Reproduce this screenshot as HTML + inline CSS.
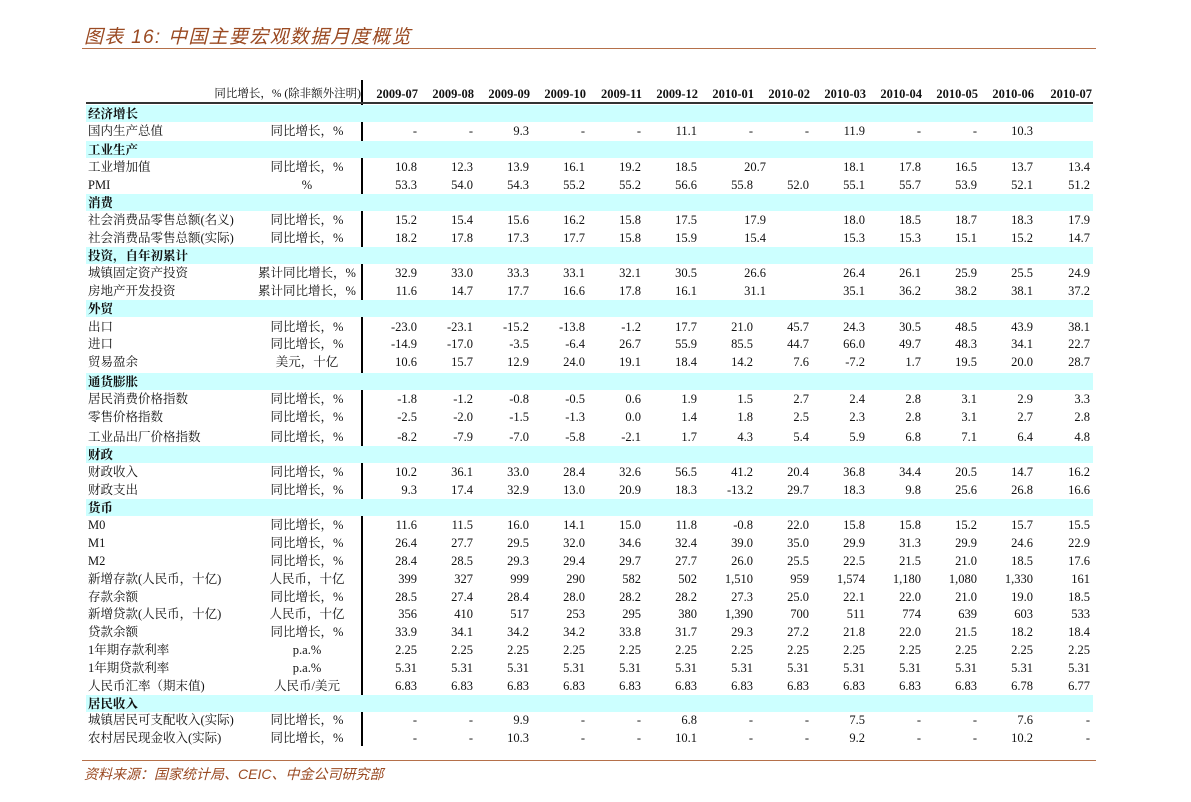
<!DOCTYPE html>
<html><head><meta charset="utf-8"><style>
body{margin:0;width:1191px;height:802px;background:#fff;position:relative;overflow:hidden;font-family:"Liberation Serif","Noto Serif CJK SC",serif;font-size:12.5px;color:#111}
.t{position:absolute;left:84px;top:22px;font-family:"Liberation Sans","Noto Sans CJK SC",sans-serif;font-style:italic;font-size:19px;color:#9a4a22;letter-spacing:1.3px}
.hl{position:absolute;left:82px;width:1014px;height:1px;background:#b5704a}
.r{position:absolute;left:86px;width:1007px;height:18px;line-height:18px;white-space:nowrap}
.b{background:#ccffff;height:17px;font-weight:bold;padding-left:2px;width:1005px}
.n{position:absolute;left:2px}
.u{position:absolute;left:146px;width:150px;text-align:center}
.c{position:absolute;width:56px;text-align:right}
.h{font-weight:bold}
</style></head><body>
<div class="t">图表 16: 中国主要宏观数据月度概览</div>
<div class="hl" style="top:48px"></div>
<div class="hl" style="top:760px"></div>
<div style="position:absolute;left:84px;top:764px;font-family:'Liberation Sans','Noto Sans CJK SC',sans-serif;font-style:italic;font-size:14px;color:#9a4a22">资料来源：国家统计局、CEIC、中金公司研究部</div>
<div style="position:absolute;left:361px;top:80px;width:2px;height:666px;background:#000"></div>
<div style="position:absolute;left:86px;top:102px;width:1007px;height:2px;background:#333"></div>

<div class="r" style="top:85px"><span style="position:absolute;right:732px;font-size:11.5px">同比增长，% (除非额外注明)</span>
<span class="c h" style="left:276px">2009-07</span><span class="c h" style="left:332px">2009-08</span><span class="c h" style="left:388px">2009-09</span><span class="c h" style="left:444px">2009-10</span><span class="c h" style="left:500px">2009-11</span><span class="c h" style="left:556px">2009-12</span><span class="c h" style="left:612px">2010-01</span><span class="c h" style="left:668px">2010-02</span><span class="c h" style="left:724px">2010-03</span><span class="c h" style="left:780px">2010-04</span><span class="c h" style="left:836px">2010-05</span><span class="c h" style="left:892px">2010-06</span><span class="c h" style="left:950px">2010-07</span></div>

<div class="r b" style="top:105px">经济增长</div>
<div class="r" style="top:122px"><span class="n">国内生产总值</span><span class="u">同比增长，%</span><span class="c" style="left:275px">-</span><span class="c" style="left:331px">-</span><span class="c" style="left:387px">9.3</span><span class="c" style="left:443px">-</span><span class="c" style="left:499px">-</span><span class="c" style="left:555px">11.1</span><span class="c" style="left:611px">-</span><span class="c" style="left:667px">-</span><span class="c" style="left:723px">11.9</span><span class="c" style="left:779px">-</span><span class="c" style="left:835px">-</span><span class="c" style="left:891px">10.3</span></div>

<div class="r b" style="top:141px">工业生产</div>
<div class="r" style="top:158px"><span class="n">工业增加值</span><span class="u">同比增长，%</span><span class="c" style="left:275px">10.8</span><span class="c" style="left:331px">12.3</span><span class="c" style="left:387px">13.9</span><span class="c" style="left:443px">16.1</span><span class="c" style="left:499px">19.2</span><span class="c" style="left:555px">18.5</span><span class="c" style="left:624px">20.7</span><span class="c" style="left:723px">18.1</span><span class="c" style="left:779px">17.8</span><span class="c" style="left:835px">16.5</span><span class="c" style="left:891px">13.7</span><span class="c" style="left:948px">13.4</span></div>
<div class="r" style="top:176px"><span class="n">PMI</span><span class="u">%</span><span class="c" style="left:275px">53.3</span><span class="c" style="left:331px">54.0</span><span class="c" style="left:387px">54.3</span><span class="c" style="left:443px">55.2</span><span class="c" style="left:499px">55.2</span><span class="c" style="left:555px">56.6</span><span class="c" style="left:611px">55.8</span><span class="c" style="left:667px">52.0</span><span class="c" style="left:723px">55.1</span><span class="c" style="left:779px">55.7</span><span class="c" style="left:835px">53.9</span><span class="c" style="left:891px">52.1</span><span class="c" style="left:948px">51.2</span></div>

<div class="r b" style="top:194px">消费</div>
<div class="r" style="top:211px"><span class="n">社会消费品零售总额(名义)</span><span class="u">同比增长，%</span><span class="c" style="left:275px">15.2</span><span class="c" style="left:331px">15.4</span><span class="c" style="left:387px">15.6</span><span class="c" style="left:443px">16.2</span><span class="c" style="left:499px">15.8</span><span class="c" style="left:555px">17.5</span><span class="c" style="left:624px">17.9</span><span class="c" style="left:723px">18.0</span><span class="c" style="left:779px">18.5</span><span class="c" style="left:835px">18.7</span><span class="c" style="left:891px">18.3</span><span class="c" style="left:948px">17.9</span></div>
<div class="r" style="top:229px"><span class="n">社会消费品零售总额(实际)</span><span class="u">同比增长，%</span><span class="c" style="left:275px">18.2</span><span class="c" style="left:331px">17.8</span><span class="c" style="left:387px">17.3</span><span class="c" style="left:443px">17.7</span><span class="c" style="left:499px">15.8</span><span class="c" style="left:555px">15.9</span><span class="c" style="left:624px">15.4</span><span class="c" style="left:723px">15.3</span><span class="c" style="left:779px">15.3</span><span class="c" style="left:835px">15.1</span><span class="c" style="left:891px">15.2</span><span class="c" style="left:948px">14.7</span></div>

<div class="r b" style="top:247px">投资，自年初累计</div>
<div class="r" style="top:264px"><span class="n">城镇固定资产投资</span><span class="u">累计同比增长，%</span><span class="c" style="left:275px">32.9</span><span class="c" style="left:331px">33.0</span><span class="c" style="left:387px">33.3</span><span class="c" style="left:443px">33.1</span><span class="c" style="left:499px">32.1</span><span class="c" style="left:555px">30.5</span><span class="c" style="left:624px">26.6</span><span class="c" style="left:723px">26.4</span><span class="c" style="left:779px">26.1</span><span class="c" style="left:835px">25.9</span><span class="c" style="left:891px">25.5</span><span class="c" style="left:948px">24.9</span></div>
<div class="r" style="top:282px"><span class="n">房地产开发投资</span><span class="u">累计同比增长，%</span><span class="c" style="left:275px">11.6</span><span class="c" style="left:331px">14.7</span><span class="c" style="left:387px">17.7</span><span class="c" style="left:443px">16.6</span><span class="c" style="left:499px">17.8</span><span class="c" style="left:555px">16.1</span><span class="c" style="left:624px">31.1</span><span class="c" style="left:723px">35.1</span><span class="c" style="left:779px">36.2</span><span class="c" style="left:835px">38.2</span><span class="c" style="left:891px">38.1</span><span class="c" style="left:948px">37.2</span></div>

<div class="r b" style="top:300px">外贸</div>
<div class="r" style="top:318px"><span class="n">出口</span><span class="u">同比增长，%</span><span class="c" style="left:275px">-23.0</span><span class="c" style="left:331px">-23.1</span><span class="c" style="left:387px">-15.2</span><span class="c" style="left:443px">-13.8</span><span class="c" style="left:499px">-1.2</span><span class="c" style="left:555px">17.7</span><span class="c" style="left:611px">21.0</span><span class="c" style="left:667px">45.7</span><span class="c" style="left:723px">24.3</span><span class="c" style="left:779px">30.5</span><span class="c" style="left:835px">48.5</span><span class="c" style="left:891px">43.9</span><span class="c" style="left:948px">38.1</span></div>
<div class="r" style="top:335px"><span class="n">进口</span><span class="u">同比增长，%</span><span class="c" style="left:275px">-14.9</span><span class="c" style="left:331px">-17.0</span><span class="c" style="left:387px">-3.5</span><span class="c" style="left:443px">-6.4</span><span class="c" style="left:499px">26.7</span><span class="c" style="left:555px">55.9</span><span class="c" style="left:611px">85.5</span><span class="c" style="left:667px">44.7</span><span class="c" style="left:723px">66.0</span><span class="c" style="left:779px">49.7</span><span class="c" style="left:835px">48.3</span><span class="c" style="left:891px">34.1</span><span class="c" style="left:948px">22.7</span></div>
<div class="r" style="top:353px"><span class="n">贸易盈余</span><span class="u">美元，十亿</span><span class="c" style="left:275px">10.6</span><span class="c" style="left:331px">15.7</span><span class="c" style="left:387px">12.9</span><span class="c" style="left:443px">24.0</span><span class="c" style="left:499px">19.1</span><span class="c" style="left:555px">18.4</span><span class="c" style="left:611px">14.2</span><span class="c" style="left:667px">7.6</span><span class="c" style="left:723px">-7.2</span><span class="c" style="left:779px">1.7</span><span class="c" style="left:835px">19.5</span><span class="c" style="left:891px">20.0</span><span class="c" style="left:948px">28.7</span></div>

<div class="r b" style="top:373px">通货膨胀</div>
<div class="r" style="top:390px"><span class="n">居民消费价格指数</span><span class="u">同比增长，%</span><span class="c" style="left:275px">-1.8</span><span class="c" style="left:331px">-1.2</span><span class="c" style="left:387px">-0.8</span><span class="c" style="left:443px">-0.5</span><span class="c" style="left:499px">0.6</span><span class="c" style="left:555px">1.9</span><span class="c" style="left:611px">1.5</span><span class="c" style="left:667px">2.7</span><span class="c" style="left:723px">2.4</span><span class="c" style="left:779px">2.8</span><span class="c" style="left:835px">3.1</span><span class="c" style="left:891px">2.9</span><span class="c" style="left:948px">3.3</span></div>
<div class="r" style="top:408px"><span class="n">零售价格指数</span><span class="u">同比增长，%</span><span class="c" style="left:275px">-2.5</span><span class="c" style="left:331px">-2.0</span><span class="c" style="left:387px">-1.5</span><span class="c" style="left:443px">-1.3</span><span class="c" style="left:499px">0.0</span><span class="c" style="left:555px">1.4</span><span class="c" style="left:611px">1.8</span><span class="c" style="left:667px">2.5</span><span class="c" style="left:723px">2.3</span><span class="c" style="left:779px">2.8</span><span class="c" style="left:835px">3.1</span><span class="c" style="left:891px">2.7</span><span class="c" style="left:948px">2.8</span></div>
<div class="r" style="top:428px"><span class="n">工业品出厂价格指数</span><span class="u">同比增长，%</span><span class="c" style="left:275px">-8.2</span><span class="c" style="left:331px">-7.9</span><span class="c" style="left:387px">-7.0</span><span class="c" style="left:443px">-5.8</span><span class="c" style="left:499px">-2.1</span><span class="c" style="left:555px">1.7</span><span class="c" style="left:611px">4.3</span><span class="c" style="left:667px">5.4</span><span class="c" style="left:723px">5.9</span><span class="c" style="left:779px">6.8</span><span class="c" style="left:835px">7.1</span><span class="c" style="left:891px">6.4</span><span class="c" style="left:948px">4.8</span></div>

<div class="r b" style="top:446px">财政</div>
<div class="r" style="top:463px"><span class="n">财政收入</span><span class="u">同比增长，%</span><span class="c" style="left:275px">10.2</span><span class="c" style="left:331px">36.1</span><span class="c" style="left:387px">33.0</span><span class="c" style="left:443px">28.4</span><span class="c" style="left:499px">32.6</span><span class="c" style="left:555px">56.5</span><span class="c" style="left:611px">41.2</span><span class="c" style="left:667px">20.4</span><span class="c" style="left:723px">36.8</span><span class="c" style="left:779px">34.4</span><span class="c" style="left:835px">20.5</span><span class="c" style="left:891px">14.7</span><span class="c" style="left:948px">16.2</span></div>
<div class="r" style="top:481px"><span class="n">财政支出</span><span class="u">同比增长，%</span><span class="c" style="left:275px">9.3</span><span class="c" style="left:331px">17.4</span><span class="c" style="left:387px">32.9</span><span class="c" style="left:443px">13.0</span><span class="c" style="left:499px">20.9</span><span class="c" style="left:555px">18.3</span><span class="c" style="left:611px">-13.2</span><span class="c" style="left:667px">29.7</span><span class="c" style="left:723px">18.3</span><span class="c" style="left:779px">9.8</span><span class="c" style="left:835px">25.6</span><span class="c" style="left:891px">26.8</span><span class="c" style="left:948px">16.6</span></div>

<div class="r b" style="top:499px">货币</div>
<div class="r" style="top:516px"><span class="n">M0</span><span class="u">同比增长，%</span><span class="c" style="left:275px">11.6</span><span class="c" style="left:331px">11.5</span><span class="c" style="left:387px">16.0</span><span class="c" style="left:443px">14.1</span><span class="c" style="left:499px">15.0</span><span class="c" style="left:555px">11.8</span><span class="c" style="left:611px">-0.8</span><span class="c" style="left:667px">22.0</span><span class="c" style="left:723px">15.8</span><span class="c" style="left:779px">15.8</span><span class="c" style="left:835px">15.2</span><span class="c" style="left:891px">15.7</span><span class="c" style="left:948px">15.5</span></div>
<div class="r" style="top:534px"><span class="n">M1</span><span class="u">同比增长，%</span><span class="c" style="left:275px">26.4</span><span class="c" style="left:331px">27.7</span><span class="c" style="left:387px">29.5</span><span class="c" style="left:443px">32.0</span><span class="c" style="left:499px">34.6</span><span class="c" style="left:555px">32.4</span><span class="c" style="left:611px">39.0</span><span class="c" style="left:667px">35.0</span><span class="c" style="left:723px">29.9</span><span class="c" style="left:779px">31.3</span><span class="c" style="left:835px">29.9</span><span class="c" style="left:891px">24.6</span><span class="c" style="left:948px">22.9</span></div>
<div class="r" style="top:552px"><span class="n">M2</span><span class="u">同比增长，%</span><span class="c" style="left:275px">28.4</span><span class="c" style="left:331px">28.5</span><span class="c" style="left:387px">29.3</span><span class="c" style="left:443px">29.4</span><span class="c" style="left:499px">29.7</span><span class="c" style="left:555px">27.7</span><span class="c" style="left:611px">26.0</span><span class="c" style="left:667px">25.5</span><span class="c" style="left:723px">22.5</span><span class="c" style="left:779px">21.5</span><span class="c" style="left:835px">21.0</span><span class="c" style="left:891px">18.5</span><span class="c" style="left:948px">17.6</span></div>
<div class="r" style="top:570px"><span class="n">新增存款(人民币，十亿)</span><span class="u">人民币，十亿</span><span class="c" style="left:275px">399</span><span class="c" style="left:331px">327</span><span class="c" style="left:387px">999</span><span class="c" style="left:443px">290</span><span class="c" style="left:499px">582</span><span class="c" style="left:555px">502</span><span class="c" style="left:611px">1,510</span><span class="c" style="left:667px">959</span><span class="c" style="left:723px">1,574</span><span class="c" style="left:779px">1,180</span><span class="c" style="left:835px">1,080</span><span class="c" style="left:891px">1,330</span><span class="c" style="left:948px">161</span></div>
<div class="r" style="top:588px"><span class="n">存款余额</span><span class="u">同比增长，%</span><span class="c" style="left:275px">28.5</span><span class="c" style="left:331px">27.4</span><span class="c" style="left:387px">28.4</span><span class="c" style="left:443px">28.0</span><span class="c" style="left:499px">28.2</span><span class="c" style="left:555px">28.2</span><span class="c" style="left:611px">27.3</span><span class="c" style="left:667px">25.0</span><span class="c" style="left:723px">22.1</span><span class="c" style="left:779px">22.0</span><span class="c" style="left:835px">21.0</span><span class="c" style="left:891px">19.0</span><span class="c" style="left:948px">18.5</span></div>
<div class="r" style="top:605px"><span class="n">新增贷款(人民币，十亿)</span><span class="u">人民币，十亿</span><span class="c" style="left:275px">356</span><span class="c" style="left:331px">410</span><span class="c" style="left:387px">517</span><span class="c" style="left:443px">253</span><span class="c" style="left:499px">295</span><span class="c" style="left:555px">380</span><span class="c" style="left:611px">1,390</span><span class="c" style="left:667px">700</span><span class="c" style="left:723px">511</span><span class="c" style="left:779px">774</span><span class="c" style="left:835px">639</span><span class="c" style="left:891px">603</span><span class="c" style="left:948px">533</span></div>
<div class="r" style="top:623px"><span class="n">贷款余额</span><span class="u">同比增长，%</span><span class="c" style="left:275px">33.9</span><span class="c" style="left:331px">34.1</span><span class="c" style="left:387px">34.2</span><span class="c" style="left:443px">34.2</span><span class="c" style="left:499px">33.8</span><span class="c" style="left:555px">31.7</span><span class="c" style="left:611px">29.3</span><span class="c" style="left:667px">27.2</span><span class="c" style="left:723px">21.8</span><span class="c" style="left:779px">22.0</span><span class="c" style="left:835px">21.5</span><span class="c" style="left:891px">18.2</span><span class="c" style="left:948px">18.4</span></div>
<div class="r" style="top:641px"><span class="n">1年期存款利率</span><span class="u">p.a.%</span><span class="c" style="left:275px">2.25</span><span class="c" style="left:331px">2.25</span><span class="c" style="left:387px">2.25</span><span class="c" style="left:443px">2.25</span><span class="c" style="left:499px">2.25</span><span class="c" style="left:555px">2.25</span><span class="c" style="left:611px">2.25</span><span class="c" style="left:667px">2.25</span><span class="c" style="left:723px">2.25</span><span class="c" style="left:779px">2.25</span><span class="c" style="left:835px">2.25</span><span class="c" style="left:891px">2.25</span><span class="c" style="left:948px">2.25</span></div>
<div class="r" style="top:659px"><span class="n">1年期贷款利率</span><span class="u">p.a.%</span><span class="c" style="left:275px">5.31</span><span class="c" style="left:331px">5.31</span><span class="c" style="left:387px">5.31</span><span class="c" style="left:443px">5.31</span><span class="c" style="left:499px">5.31</span><span class="c" style="left:555px">5.31</span><span class="c" style="left:611px">5.31</span><span class="c" style="left:667px">5.31</span><span class="c" style="left:723px">5.31</span><span class="c" style="left:779px">5.31</span><span class="c" style="left:835px">5.31</span><span class="c" style="left:891px">5.31</span><span class="c" style="left:948px">5.31</span></div>
<div class="r" style="top:677px"><span class="n">人民币汇率（期末值)</span><span class="u">人民币/美元</span><span class="c" style="left:275px">6.83</span><span class="c" style="left:331px">6.83</span><span class="c" style="left:387px">6.83</span><span class="c" style="left:443px">6.83</span><span class="c" style="left:499px">6.83</span><span class="c" style="left:555px">6.83</span><span class="c" style="left:611px">6.83</span><span class="c" style="left:667px">6.83</span><span class="c" style="left:723px">6.83</span><span class="c" style="left:779px">6.83</span><span class="c" style="left:835px">6.83</span><span class="c" style="left:891px">6.78</span><span class="c" style="left:948px">6.77</span></div>

<div class="r b" style="top:695px">居民收入</div>
<div class="r" style="top:711px"><span class="n">城镇居民可支配收入(实际)</span><span class="u">同比增长，%</span><span class="c" style="left:275px">-</span><span class="c" style="left:331px">-</span><span class="c" style="left:387px">9.9</span><span class="c" style="left:443px">-</span><span class="c" style="left:499px">-</span><span class="c" style="left:555px">6.8</span><span class="c" style="left:611px">-</span><span class="c" style="left:667px">-</span><span class="c" style="left:723px">7.5</span><span class="c" style="left:779px">-</span><span class="c" style="left:835px">-</span><span class="c" style="left:891px">7.6</span><span class="c" style="left:948px">-</span></div>
<div class="r" style="top:729px"><span class="n">农村居民现金收入(实际)</span><span class="u">同比增长，%</span><span class="c" style="left:275px">-</span><span class="c" style="left:331px">-</span><span class="c" style="left:387px">10.3</span><span class="c" style="left:443px">-</span><span class="c" style="left:499px">-</span><span class="c" style="left:555px">10.1</span><span class="c" style="left:611px">-</span><span class="c" style="left:667px">-</span><span class="c" style="left:723px">9.2</span><span class="c" style="left:779px">-</span><span class="c" style="left:835px">-</span><span class="c" style="left:891px">10.2</span><span class="c" style="left:948px">-</span></div>
</body></html>
